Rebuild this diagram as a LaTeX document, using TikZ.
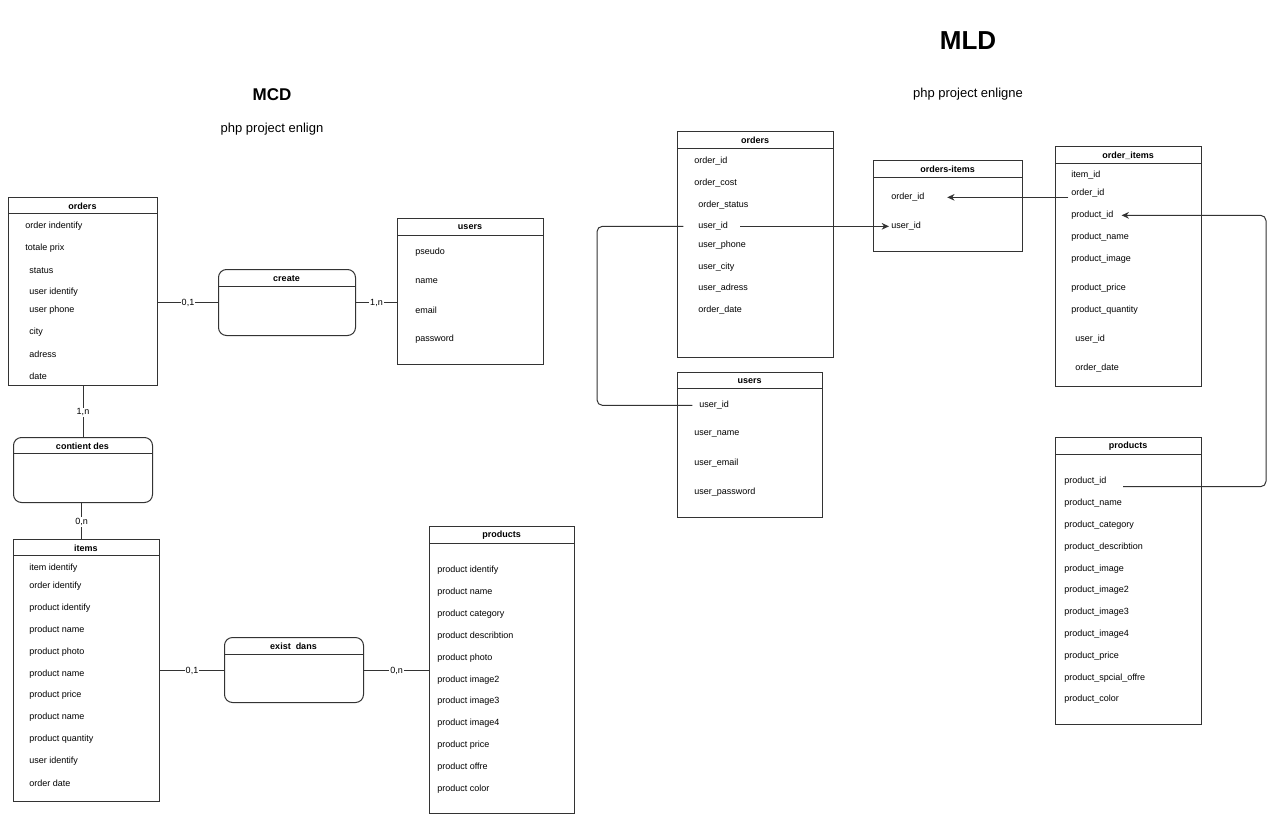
\documentclass[tikz,border=0pt]{standalone}
\usepackage{fontspec}
\setmainfont{Liberation Sans}
\usetikzlibrary{arrows.meta}
\newcommand\entbox[7]{%
  \node[ent, minimum width={(#4-#2)*0.75pt}, minimum height={(#5-#3)*0.75pt}] (#1) at (#2,#3) {};
  \draw[lnk] (#2,#6) -- (#4,#6);
  \node[hdr] (#1-t) at ({(#2+#4)/2},{(#3+#6)/2}) {#7};
}
\newcommand\relbox[7]{%
  \node[ent, rounded corners=6pt, minimum width={(#4-#2)*0.75pt}, minimum height={(#5-#3)*0.75pt}] (#1) at (#2,#3) {};
  \draw[lnk] (#2,#6) -- (#4,#6);
  \node[hdr] (#1-t) at ({(#2+#4)/2},{(#3+#6)/2}) {#7};
}
\newcommand\attr[4]{\node[att] (#1) at (#2,#3) {#4};}
\begin{document}
\begin{tikzpicture}[x=0.75pt,y=-0.75pt,
  ent/.style={draw=black!80, line width=0.75pt, anchor=north west, inner sep=0pt},
  att/.style={anchor=west, inner sep=0pt, yshift=-1pt, font=\fontsize{6.75}{8}\selectfont},
  hdr/.style={anchor=center, inner sep=0pt, yshift=-0.8pt, font=\fontsize{6.75}{8}\selectfont\bfseries},
  lnk/.style={draw=black!80, line width=0.75pt},
  card/.style={fill=white, inner sep=0.8pt, yshift=-0.6pt, font=\fontsize{6.75}{8}\selectfont},
  arr/.style={lnk, -{Stealth[length=5.5pt,width=5pt]}}
]
\useasboundingbox (0,0) rectangle (1280,821);

% titles
\node[font=\fontsize{12.75}{15}\selectfont\bfseries] (mcd) at (272,95) {MCD};
\node[font=\fontsize{9.75}{12}\selectfont] (mcdsub) at (272,129) {php project enlign};
\node[font=\fontsize{19.5}{22}\selectfont\bfseries] (mld) at (968,41) {MLD};
\node[font=\fontsize{9.75}{12}\selectfont] (mldsub) at (968,94) {php project enligne};

% ===== MCD =====
\entbox{orders}{8}{197}{157}{385}{213}{orders}
\attr{o1}{25}{225}{order indentify}
\attr{o2}{25}{247}{totale prix}
\attr{o3}{29}{269}{status}
\attr{o4}{29}{291}{user identify}
\attr{o5}{29}{309}{user phone}
\attr{o6}{29}{331}{city}
\attr{o7}{29}{353}{adress}
\attr{o8}{29}{375}{date}

\relbox{create}{218}{269}{355}{335}{286}{create}

\entbox{users}{397}{218}{543}{364}{235}{users}
\attr{u1}{415}{251}{pseudo}
\attr{u2}{415}{280}{name}
\attr{u3}{415}{309}{email}
\attr{u4}{415}{338}{password}

\relbox{contient}{13}{437}{152}{502}{453}{contient des}

\entbox{items}{13}{539}{159}{801}{555}{items}
\attr{i1}{29}{567}{item identify}
\attr{i2}{29}{585}{order identify}
\attr{i3}{29}{607}{product identify}
\attr{i4}{29}{629}{product name}
\attr{i5}{29}{651}{product photo}
\attr{i6}{29}{673}{product name}
\attr{i7}{29}{694}{product price}
\attr{i8}{29}{716}{product name}
\attr{i9}{29}{738}{product quantity}
\attr{i10}{29}{760}{user identify}
\attr{i11}{29}{782}{order date}

\relbox{exist}{224}{637}{363}{702}{654}{exist\ \ dans}

\entbox{products}{429}{526}{574}{813}{543}{products}
\attr{p1}{437}{569}{product identify}
\attr{p2}{437}{591}{product name}
\attr{p3}{437}{613}{product category}
\attr{p4}{437}{635}{product describtion}
\attr{p5}{437}{657}{product photo}
\attr{p6}{437}{679}{product image2}
\attr{p7}{437}{700}{product image3}
\attr{p8}{437}{722}{product image4}
\attr{p9}{437}{744}{product price}
\attr{p10}{437}{766}{product offre}
\attr{p11}{437}{788}{product color}

% MCD links
\draw[lnk] (orders.east |- create.west) -- (create.west) node[midway,card] {0,1};
\draw[lnk] (create.east) -- (create.east -| users.west) node[midway,card] {1,n};
\draw[lnk] (orders.south) -- (contient.north) node[midway,card] {1,n};
\draw[lnk] ([xshift=-1pt]contient.south) -- ([xshift=-1pt]contient.south |- items.north) node[midway,card] {0,n};
\draw[lnk] (items.east |- exist.west) -- (exist.west) node[midway,card] {0,1};
\draw[lnk] (exist.east) -- (exist.east -| products.west) node[midway,card] {0,n};

% ===== MLD =====
\entbox{rorders}{677}{131}{833}{357}{148}{orders}
\attr{ro1}{694}{160}{order\_id}
\attr{ro2}{694}{182}{order\_cost}
\attr{ro3}{698}{204}{order\_status}
\attr{ro4}{698}{225}{user\_id}
\attr{ro5}{698}{244}{user\_phone}
\attr{ro6}{698}{266}{user\_city}
\attr{ro7}{698}{287}{user\_adress}
\attr{ro8}{698}{309}{order\_date}

\entbox{oitems}{873}{160}{1022}{251}{177}{orders-items}
\attr{oi1}{891}{196}{order\_id}
\attr{oi2}{891}{225}{user\_id}

\entbox{orderitems}{1055}{146}{1201}{386}{163}{order\_items}
\attr{ot1}{1071}{174}{item\_id}
\attr{ot2}{1071}{192}{order\_id}
\attr{ot3}{1071}{214}{product\_id}
\attr{ot4}{1071}{236}{product\_name}
\attr{ot5}{1071}{258}{product\_image}
\attr{ot6}{1071}{287}{product\_price}
\attr{ot7}{1071}{309}{product\_quantity}
\attr{ot8}{1075}{338}{user\_id}
\attr{ot9}{1075}{367}{order\_date}

\entbox{rusers}{677}{372}{822}{517}{388}{users}
\attr{ru1}{699}{404}{user\_id}
\attr{ru2}{694}{433}{user\_name}
\attr{ru3}{694}{462}{user\_email}
\attr{ru4}{694}{491}{user\_password}

\entbox{rproducts}{1055}{437}{1201}{724}{454}{products}
\attr{rp1}{1064}{480}{product\_id}
\attr{rp2}{1064}{502}{product\_name}
\attr{rp3}{1064}{524}{product\_category}
\attr{rp4}{1064}{546}{product\_describtion}
\attr{rp5}{1064}{568}{product\_image}
\attr{rp6}{1064}{589}{product\_image2}
\attr{rp7}{1064}{611}{product\_image3}
\attr{rp8}{1064}{633}{product\_image4}
\attr{rp9}{1064}{655}{product\_price}
\attr{rp10}{1064}{677}{product\_spcial\_offre}
\attr{rp11}{1064}{698}{product\_color}

% MLD links
\coordinate (bendL) at (597,315);
\coordinate (bendR) at (1266,350);
\draw[arr] ([xshift=9pt]ro4.east) -- ([xshift=-1.5pt]oi2.west);
\draw[lnk, rounded corners=4pt] ([xshift=-11pt]ro4.west) -| (bendL) |- ([xshift=-5pt]ru1.west);
\draw[arr] ([xshift=-2pt]ot2.west |- oi1.east) -- ([xshift=17pt]oi1.east);
\draw[arr, rounded corners=4pt] ([xshift=12.5pt,yshift=-4pt]rp1.east) -| (bendR) |- ([xshift=6pt]ot3.east);
\end{tikzpicture}
\end{document}
